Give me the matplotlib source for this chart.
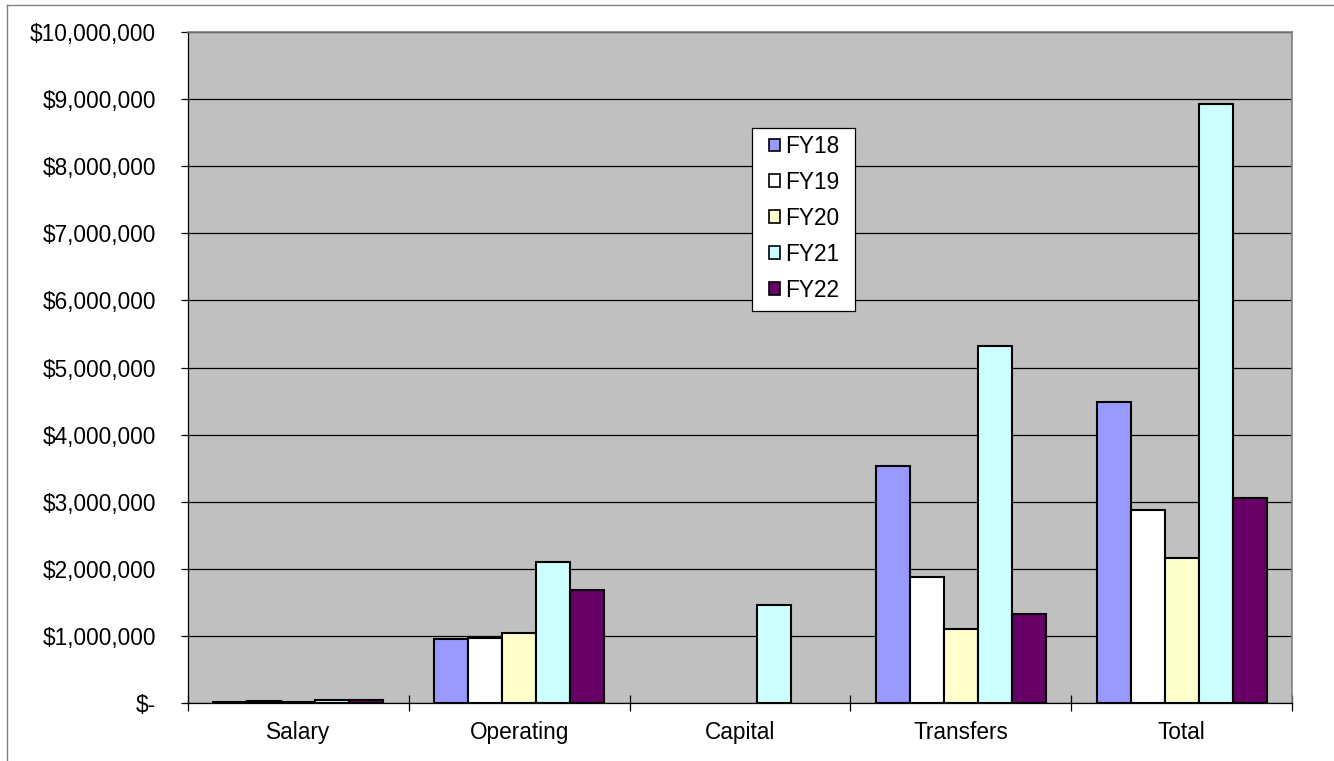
import numpy as np
import matplotlib
matplotlib.use('Agg')
from matplotlib import pyplot as plt
from matplotlib.ticker import FuncFormatter, FixedLocator
from matplotlib.lines import Line2D
from matplotlib.patches import Rectangle

plt.rcParams['font.family'] = ['Liberation Sans', 'DejaVu Sans']

categories = ['Salary', 'Operating', 'Capital', 'Transfers', 'Total']
series_names = ['FY18', 'FY19', 'FY20', 'FY21', 'FY22']
# blank cells in the source (no capital spending) kept as nan
fy18 = [10000, 950000, np.nan, 3530000, 4480000]
fy19 = [25000, 975000, np.nan, 1880000, 2870000]
fy20 = [15000, 1045000, np.nan, 1105000, 2160000]
fy21 = [50000, 2100000, 1460000, 5320000, 8930000]
fy22 = [45000, 1680000, np.nan, 1330000, 3060000]
colors = ['#9999FF', '#FFFFFF', '#FFFFCC', '#CCFFFF', '#660066']
yticks = np.arange(0, 10000001, 1000000)

FS = 16.3
W, H = 1334, 761

fig = plt.figure(figsize=(W/100, H/100), dpi=100)
ax = fig.add_axes([188/W, 1-703/H, (1292-188)/W, (703-32)/H])
ax.set_facecolor('#C0C0C0')

x = np.arange(len(categories))
w = 1/6.5
all_series = [fy18, fy19, fy20, fy21, fy22]
for i, (vals, c, name) in enumerate(zip(all_series, colors, series_names)):
    ax.bar(x + (i-2)*w, vals, width=w, color=c, edgecolor='black', linewidth=1.5,
           label=name, zorder=3)

ax.set_xlim(-0.5, 4.5)
ax.set_ylim(0, 10000000)
ax.set_yticks(yticks)
ax.yaxis.set_major_formatter(FuncFormatter(lambda v, p: '$-' if v == 0 else '${:,.0f}'.format(v)))
ax.yaxis.grid(True, color='black', linewidth=0.9, zorder=1)
ax.set_axisbelow(True)
ax.tick_params(axis='y', direction='out', length=5, width=0.9, pad=18, labelsize=FS)

ax.set_xticks(x)
ax.set_xticklabels(categories)
ax.xaxis.set_minor_locator(FixedLocator(np.arange(-0.5, 4.6, 1)))
ax.tick_params(axis='x', which='major', length=0, pad=13, labelsize=FS)
ax.tick_params(axis='x', which='minor', direction='inout', length=12, width=0.9)

for s in ['top', 'right']:
    ax.spines[s].set_color('#808080')
    ax.spines[s].set_linewidth(1.2)
ax.spines['left'].set_color('black')
ax.spines['bottom'].set_color('black')
ax.spines['left'].set_linewidth(0.9)
ax.spines['bottom'].set_linewidth(0.9)

# legend box drawn by hand, entries without frame on top of it
ax.add_patch(Rectangle((752/W, 1-311/H), 103/W, 183/H, transform=fig.transFigure,
                       facecolor='white', edgecolor='black', linewidth=0.9,
                       zorder=4, clip_on=False))
leg = ax.legend(loc='upper left', bbox_to_anchor=(769/W, 1-135/H),
                bbox_transform=fig.transFigure, fontsize=FS, frameon=False,
                handlelength=0.5, handleheight=0.5,
                handletextpad=0.22, labelspacing=0.57, borderpad=0,
                borderaxespad=0)
leg.set_zorder(5)
for h in leg.legend_handles:
    h.set_linewidth(1.2)

# outer chart border
fig.add_artist(Line2D([7/W, 7/W], [0, 1-5/H], transform=fig.transFigure, color='#808080', lw=1))
fig.add_artist(Line2D([7/W, 1], [1-5/H, 1-5/H], transform=fig.transFigure, color='#808080', lw=1))

fig.savefig('out.png', dpi=100)
